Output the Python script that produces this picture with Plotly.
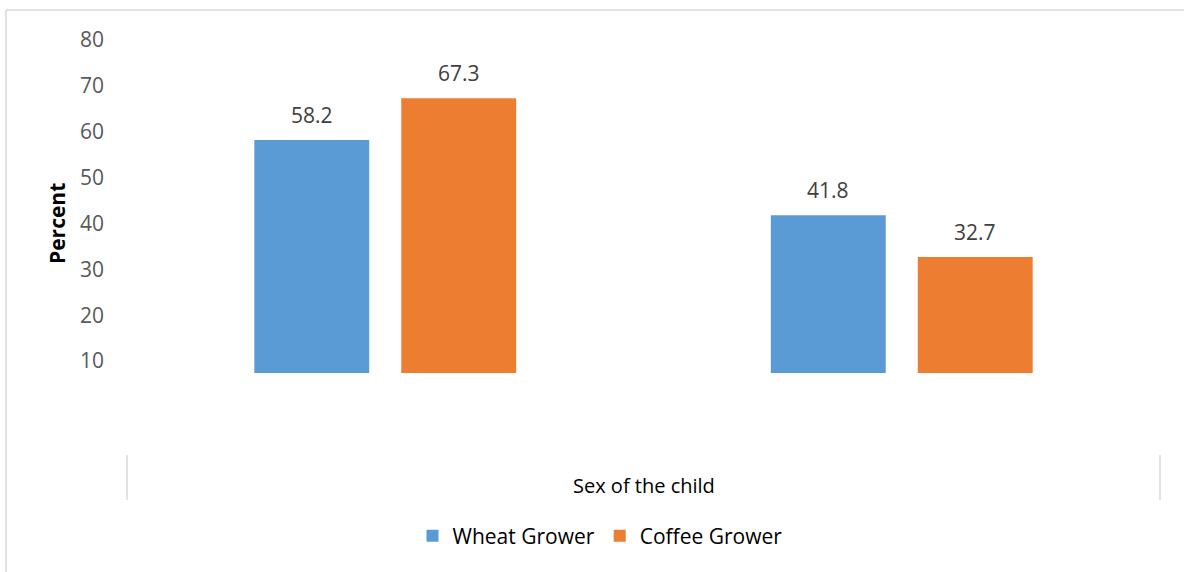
import plotly.graph_objects as go

categories = ["Male", "Female"]
series_names = ["Wheat Grower", "Coffee Grower"]
wheat = [58.2, 41.8]
coffee = [67.3, 32.7]
y_ticks = [10, 20, 30, 40, 50, 60, 70, 80]

colors = ["#5B9BD5", "#ED7D31"]
FONT = "Open Sans"

W, H = 1184, 572
L, R, T, B = 127, 24, 40, 199
pw, ph = W - L - R, H - T - B

def px_x(x):
    return (x - L) / pw

def px_y(y):
    return (H - B - y) / ph

fig = go.Figure()
for name, vals, col in zip(series_names, [wheat, coffee], colors):
    fig.add_trace(go.Bar(
        x=categories, y=vals, name=name,
        marker=dict(color=col, line=dict(width=0)),
    ))

# data labels
offsets = [-73.5, 73.5]
for vals, off in zip([wheat, coffee], offsets):
    for c, v in zip(categories, vals):
        fig.add_annotation(x=c, y=v, xref="x", yref="y", text=f"{v:.1f}",
                           showarrow=False, xshift=off, yshift=9,
                           xanchor="center", yanchor="bottom",
                           font=dict(family=FONT, size=21, color="#404040"))

# axis titles
fig.add_annotation(x=px_x(57), y=px_y(224), xref="paper", yref="paper",
                   text="<b>Percent</b>", textangle=-90, showarrow=False,
                   xanchor="center", yanchor="middle",
                   font=dict(family=FONT, size=21, color="#000000"))
fig.add_annotation(x=0.5, y=px_y(485), xref="paper", yref="paper",
                   text="Sex of the child", showarrow=False,
                   xanchor="center", yanchor="middle",
                   font=dict(family=FONT, size=20, color="#000000"))

shapes = []
# category separators
for xp in [127, 1160]:
    shapes.append(dict(type="line", xref="paper", yref="paper",
                       x0=px_x(xp), x1=px_x(xp), y0=px_y(455), y1=px_y(500),
                       line=dict(color="#D9D9D9", width=1.5)))
# chart border
shapes.append(dict(type="line", xref="paper", yref="paper",
                   x0=px_x(6), x1=px_x(1190), y0=px_y(10), y1=px_y(10),
                   line=dict(color="#D9D9D9", width=1.5)))
shapes.append(dict(type="line", xref="paper", yref="paper",
                   x0=px_x(6), x1=px_x(6), y0=px_y(10), y1=px_y(580),
                   line=dict(color="#D9D9D9", width=1.5)))

fig.update_layout(
    width=W, height=H,
    margin=dict(l=L, r=R, t=T, b=B),
    paper_bgcolor="white", plot_bgcolor="white",
    barmode="group", bargap=0.431, bargroupgap=0.218,
    showlegend=True,
    legend=dict(orientation="h", x=px_x(600), y=px_y(536),
                xanchor="center", yanchor="middle",
                font=dict(family=FONT, size=21, color="#000000"),
                itemwidth=30, traceorder="normal"),
    shapes=shapes,
    xaxis=dict(showticklabels=False, showline=False, showgrid=False,
               zeroline=False, ticks=""),
    yaxis=dict(range=[7.4, 80], tickvals=y_ticks, showline=False,
               showgrid=False, zeroline=False, ticks="",
               tickfont=dict(family=FONT, size=21, color="#595959"),
               ticklabelstandoff=22),
)

fig.write_html("out.html")
